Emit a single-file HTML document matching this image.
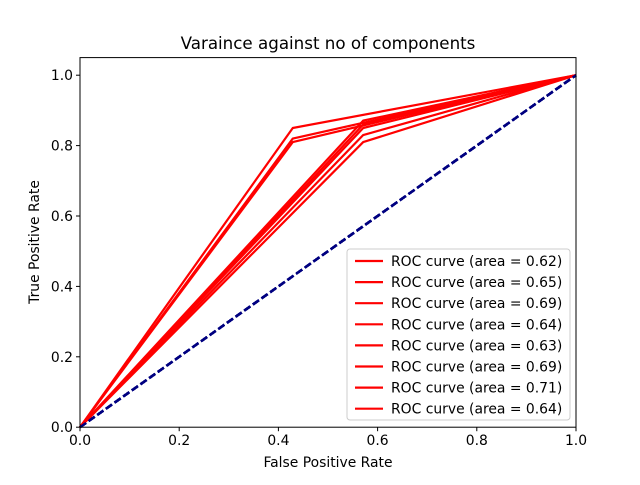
<!DOCTYPE html>
<html><head><meta charset="utf-8"><style>
html,body{margin:0;padding:0;background:#fff;}
svg text{font-family:"DejaVu Sans","Liberation Sans",sans-serif;fill:#000;}
</style></head><body>
<svg id="chart" width="640" height="480" viewBox="0 0 640 480" xmlns="http://www.w3.org/2000/svg">
<rect width="640" height="480" fill="#fff"/>
<text x="328" y="49" font-size="16.7" text-anchor="middle">Varaince against no of components</text>
<g id="plot"></g>
<rect x="80" y="57.6" width="496" height="369.6" fill="none" stroke="#000" stroke-width="1"/>
<g id="ticks"></g>
<text x="328" y="467" font-size="13.9" text-anchor="middle">False Positive Rate</text>
<text transform="translate(39,242) rotate(-90)" font-size="13.9" text-anchor="middle">True Positive Rate</text>
<g id="legend"></g>
</svg>
<script>
const fprValues=[0.571,0.571,0.429,0.571,0.571,0.429,0.429,0.571];
const tprValues=[0.81,0.871,0.81,0.85,0.83,0.82,0.85,0.86];
const aucLabels=["0.62","0.65","0.69","0.64","0.63","0.69","0.71","0.64"];
const xTicks=[0,0.2,0.4,0.6,0.8,1.0];
const yTicks=[0,0.2,0.4,0.6,0.8,1.0];
const NS="http://www.w3.org/2000/svg";
const X0=80,X1=576,Y0=427.2,YT=57.6,YMAX=1.05;
const sx=v=>X0+v*(X1-X0);
const sy=v=>Y0-v/YMAX*(Y0-YT);
function mk(tag,attrs,parent){const e=document.createElementNS(NS,tag);for(const k in attrs)e.setAttribute(k,attrs[k]);parent.appendChild(e);return e;}
const plot=document.getElementById('plot');
fprValues.forEach((f,i)=>{
  const p=mk('polyline',{points:`${sx(0)},${sy(0)} ${sx(f)},${sy(tprValues[i])} ${sx(1)},${sy(1)}`,fill:'none',stroke:'#ff0000','stroke-width':2.2,'stroke-linejoin':'round'},plot);
  
  
  const d=mk('line',{x1:sx(0),y1:sy(0),x2:sx(1),y2:sy(1),stroke:'#000080','stroke-width':2.4,'stroke-dasharray':'7.4,3.2'},plot);
  
  
});
const tk=document.getElementById('ticks');
xTicks.forEach(v=>{
  const l=mk('line',{x1:sx(v),y1:Y0,x2:sx(v),y2:Y0+4,stroke:'#000'},tk);
  
  
  const t=mk('text',{x:sx(v),y:Y0+18,'font-size':13.9,'text-anchor':'middle'},tk);
  t.textContent=v.toFixed(1);
  
  
});
yTicks.forEach(v=>{
  const l=mk('line',{x1:X0-4,y1:sy(v),x2:X0,y2:sy(v),stroke:'#000'},tk);
  
  
  const t=mk('text',{x:X0-7,y:sy(v)+5,'font-size':13.9,'text-anchor':'end'},tk);
  t.textContent=v.toFixed(1);
  
  
});
const lg=document.getElementById('legend');
const box=mk('rect',{x:347,y:249,width:223,height:171,rx:3,fill:'#fff','fill-opacity':0.8,stroke:'#ccc'},lg);


aucLabels.forEach((a,i)=>{
  const y=261+i*21.1;
  const l=mk('line',{x1:355,y1:y,x2:383,y2:y,stroke:'#ff0000','stroke-width':2.2},lg);
  
  
  const t=mk('text',{x:391,y:y+5,'font-size':13.9},lg);
  t.textContent='ROC curve (area = '+a+')';
  
  
});
</script>
</body></html>
